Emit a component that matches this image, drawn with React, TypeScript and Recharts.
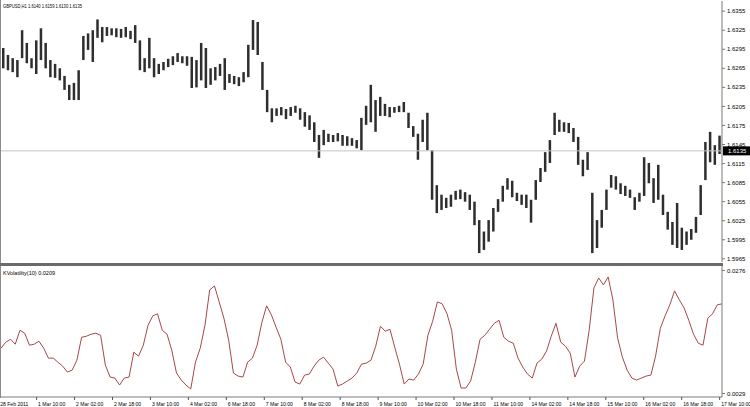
import React from 'react';
import { ComposedChart, LineChart, Bar, Line, XAxis, YAxis, ReferenceLine } from 'recharts';

const highs = [
  1.6297, 1.6286, 1.6281, 1.6278, 1.6325, 1.6305, 1.6281, 1.6309, 1.6328, 1.6305,
  1.6278, 1.6272, 1.6265, 1.6253, 1.6239, 1.6242, 1.6262, 1.6316, 1.6320, 1.6325,
  1.6342, 1.6330, 1.6330, 1.6328, 1.6328, 1.6327, 1.6330, 1.6324, 1.6333, 1.6309,
  1.6281, 1.6313, 1.6281, 1.6272, 1.6275, 1.6280, 1.6284, 1.6289, 1.6284, 1.6284,
  1.6283, 1.6278, 1.6305, 1.6297, 1.6265, 1.6267, 1.6272, 1.6281, 1.6256, 1.6253,
  1.6251, 1.6259, 1.6302, 1.6341, 1.6338, 1.6275, 1.6231, 1.6202, 1.6202, 1.6204,
  1.6201, 1.6204, 1.6206, 1.6202, 1.6196, 1.6191, 1.6180, 1.6160, 1.6168, 1.6162,
  1.6160, 1.6163, 1.6160, 1.6158, 1.6155, 1.6152, 1.6187, 1.6206, 1.6239, 1.6215,
  1.6220, 1.6209, 1.6204, 1.6204, 1.6206, 1.6212, 1.6195, 1.6174, 1.6162, 1.6184,
  1.6195, 1.6136, 1.6081, 1.6066, 1.6061, 1.6066, 1.6072, 1.6074, 1.6070, 1.6066,
  1.6055, 1.6026, 1.6008, 1.6026, 1.6045, 1.6059, 1.6080, 1.6092, 1.6088, 1.6069,
  1.6066, 1.6066, 1.6058, 1.6089, 1.6108, 1.6133, 1.6152, 1.6195, 1.6184, 1.6180,
  1.6179, 1.6171, 1.6157, 1.6121, 1.6133, 1.6069, 1.6026, 1.6042, 1.6074, 1.6097,
  1.6095, 1.6084, 1.6080, 1.6074, 1.6062, 1.6069, 1.6125, 1.6116, 1.6092, 1.6113,
  1.6066, 1.6039, 1.6023, 1.6053, 1.6014, 1.6008, 1.6012, 1.6031, 1.6081, 1.6149,
  1.6165, 1.6144, 1.6159,
];

const lows = [
  1.6265, 1.6262, 1.6259, 1.6251, 1.6281, 1.6273, 1.6265, 1.6256, 1.6278, 1.6265,
  1.6251, 1.6250, 1.6246, 1.6231, 1.6215, 1.6215, 1.6215, 1.6278, 1.6294, 1.6275,
  1.6313, 1.6306, 1.6316, 1.6317, 1.6314, 1.6313, 1.6314, 1.6311, 1.6305, 1.6262,
  1.6259, 1.6265, 1.6251, 1.6256, 1.6262, 1.6267, 1.6270, 1.6275, 1.6273, 1.6269,
  1.6234, 1.6235, 1.6246, 1.6234, 1.6239, 1.6246, 1.6253, 1.6231, 1.6242, 1.6240,
  1.6237, 1.6243, 1.6251, 1.6294, 1.6286, 1.6231, 1.6196, 1.6180, 1.6190, 1.6191,
  1.6185, 1.6190, 1.6195, 1.6184, 1.6173, 1.6168, 1.6149, 1.6124, 1.6144, 1.6149,
  1.6149, 1.6150, 1.6143, 1.6143, 1.6143, 1.6139, 1.6136, 1.6176, 1.6180, 1.6165,
  1.6190, 1.6190, 1.6188, 1.6195, 1.6196, 1.6196, 1.6171, 1.6157, 1.6121, 1.6149,
  1.6136, 1.6058, 1.6037, 1.6042, 1.6045, 1.6047, 1.6058, 1.6059, 1.6055, 1.6042,
  1.6018, 1.5974, 1.5979, 1.5992, 1.6008, 1.6039, 1.6055, 1.6074, 1.6062, 1.6056,
  1.6050, 1.6045, 1.6022, 1.6058, 1.6086, 1.6102, 1.6116, 1.6160, 1.6165, 1.6165,
  1.6163, 1.6149, 1.6113, 1.6095, 1.6105, 1.5974, 1.5982, 1.6014, 1.6042, 1.6077,
  1.6074, 1.6067, 1.6064, 1.6061, 1.6042, 1.6055, 1.6064, 1.6084, 1.6053, 1.6058,
  1.6034, 1.6011, 1.5987, 1.5982, 1.5979, 1.5987, 1.5995, 1.6006, 1.6034, 1.6089,
  1.6117, 1.6113, 1.6130,
];

const volatility = [
  0.0120, 0.0132, 0.0138, 0.0128, 0.0156, 0.0150, 0.0126, 0.0128, 0.0134, 0.0120,
  0.0100, 0.0100, 0.0092, 0.0084, 0.0072, 0.0076, 0.0096, 0.0142, 0.0144, 0.0148,
  0.0150, 0.0146, 0.0086, 0.0062, 0.0060, 0.0046, 0.0060, 0.0062, 0.0112, 0.0104,
  0.0126, 0.0166, 0.0185, 0.0189, 0.0156, 0.0148, 0.0116, 0.0070, 0.0056, 0.0046,
  0.0038, 0.0092, 0.0120, 0.0166, 0.0237, 0.0245, 0.0213, 0.0180, 0.0136, 0.0070,
  0.0064, 0.0062, 0.0092, 0.0100, 0.0126, 0.0172, 0.0205, 0.0187, 0.0162, 0.0138,
  0.0092, 0.0082, 0.0052, 0.0048, 0.0066, 0.0068, 0.0084, 0.0096, 0.0102, 0.0090,
  0.0078, 0.0044, 0.0048, 0.0054, 0.0060, 0.0070, 0.0088, 0.0090, 0.0096, 0.0124,
  0.0164, 0.0154, 0.0158, 0.0122, 0.0088, 0.0048, 0.0058, 0.0056, 0.0068, 0.0088,
  0.0146, 0.0174, 0.0213, 0.0209, 0.0190, 0.0156, 0.0078, 0.0040, 0.0040, 0.0054,
  0.0092, 0.0138, 0.0146, 0.0158, 0.0170, 0.0176, 0.0142, 0.0134, 0.0130, 0.0100,
  0.0082, 0.0068, 0.0060, 0.0090, 0.0098, 0.0114, 0.0144, 0.0170, 0.0132, 0.0124,
  0.0110, 0.0062, 0.0084, 0.0094, 0.0156, 0.0241, 0.0261, 0.0247, 0.0263, 0.0217,
  0.0140, 0.0102, 0.0076, 0.0060, 0.0056, 0.0060, 0.0064, 0.0066, 0.0104, 0.0160,
  0.0185, 0.0207, 0.0235, 0.0217, 0.0201, 0.0176, 0.0148, 0.0130, 0.0126, 0.0180,
  0.0189, 0.0207, 0.0209,
];

const timeLabels = [
  '28 Feb 2011', '1 Mar 10:00', '2 Mar 02:00', '2 Mar 18:00', '3 Mar 10:00',
  '4 Mar 02:00', '6 Mar 18:00', '7 Mar 10:00', '8 Mar 02:00', '8 Mar 18:00',
  '9 Mar 10:00', '10 Mar 02:00', '10 Mar 18:00', '11 Mar 10:00', '14 Mar 02:00',
  '14 Mar 18:00', '15 Mar 10:00', '16 Mar 02:00', '16 Mar 18:00', '17 Mar 10:00',
];

const priceTicks = [
  1.6355, 1.6325, 1.6295, 1.6265, 1.6235, 1.6205, 1.6175,
  1.6145, 1.6115, 1.6085, 1.6055, 1.6025, 1.5995, 1.5965,
];
const volTicks = [0.0276, 0.0029];
const lastQuote = { open: 1.614, high: 1.6159, low: 1.613, close: 1.6135 };

const W = 750;
const AXIS_W = 28;
const PLOT_W = W - AXIS_W - 1;
const BAND = PLOT_W / highs.length;
const FONT = '"Liberation Sans", Arial, sans-serif';

const priceData = highs.map((h, i) => ({ i, hl: [lows[i], h] }));
const volData = volatility.map((v, i) => ({ i, v }));

const fmt4 = (v: number) => v.toFixed(4);

const TimeTick = ({ x, y, payload }: any) => {
  const x0 = x - BAND / 2;
  const label = timeLabels[Math.round(payload.value / 8)] ?? '';
  return (
    <g>
      <line x1={x0} y1={y} x2={x0} y2={y + 3} stroke="#555" />
      <text x={x0 + 1.5} y={y + 8.5} fontSize={5.1} fill="#000" fontFamily={FONT}>
        {label}
      </text>
    </g>
  );
};

const PriceTag = ({ viewBox }: any) => {
  if (!viewBox) return null;
  const x = viewBox.x + viewBox.width;
  const y = viewBox.y;
  return (
    <g>
      <rect x={x + 1} y={y - 4.5} width={AXIS_W - 1} height={9} fill="#000" />
      <text x={x + 6} y={y + 2} fontSize={6} fill="#fff" fontFamily={FONT}>
        {fmt4(lastQuote.close)}
      </text>
    </g>
  );
};

// small panel caption, squeezed to the width it has in the terminal
const Caption = ({ top, width, text }: { top: number; width: number; text: string }) => (
  <svg width={160} height={10} style={{ position: 'absolute', left: 0, top, zIndex: 2 }}>
    <text x={3} y={6.5} fontSize={6} fill="#000" fontFamily={FONT} textLength={width} lengthAdjust="spacingAndGlyphs">
      {text}
    </text>
  </svg>
);

export default function App() {
  const title = `GBPUSD,H1 ${fmt4(lastQuote.open)} ${fmt4(lastQuote.high)} ${fmt4(lastQuote.low)} ${fmt4(lastQuote.close)}`;
  const volTitle = `KVolatility(10) ${fmt4(volatility[volatility.length - 1])}`;
  return (
    <div
      style={{
        position: 'absolute', left: 0, top: 0, width: W, height: 407,
        background: '#fff', overflow: 'hidden', fontFamily: FONT,
      }}
    >
      <div style={{ position: 'absolute', left: 0, top: 0, width: 1, height: 398, background: '#8a8a8a' }} />

      <ComposedChart
        width={W}
        height={263}
        data={priceData}
        margin={{ top: 1, right: 0, bottom: 1, left: 1 }}
        style={{ position: 'absolute', left: 0, top: 0 }}
      >
        <XAxis dataKey="i" hide />
        <YAxis
          orientation="right"
          width={AXIS_W}
          domain={[1.596, 1.6371]}
          ticks={priceTicks}
          tickFormatter={fmt4}
          interval={0}
          tick={{ fontSize: 6, fill: '#000', fontFamily: FONT }}
          tickSize={3}
          tickMargin={2}
          stroke="#7a7a7a"
          allowDataOverflow
        />
        <ReferenceLine y={lastQuote.close} stroke="#c4c4c4" label={<PriceTag />} />
        <Bar dataKey="hl" barSize={2.5} fill="#2e2e2e" isAnimationActive={false} />
      </ComposedChart>

      <Caption top={1} width={79} text={title} />

      <div style={{ position: 'absolute', left: 0, top: 263, width: 723, height: 3, background: '#6a6a6a' }} />

      <LineChart
        width={W}
        height={141}
        data={volData}
        margin={{ top: 0, right: 0, bottom: 0, left: 1 }}
        style={{ position: 'absolute', left: 0, top: 266 }}
      >
        <XAxis
          dataKey="i"
          interval={7}
          tick={<TimeTick />}
          tickLine={false}
          tickSize={0}
          tickMargin={0}
          height={10}
          stroke="#7a7a7a"
        />
        <YAxis
          orientation="right"
          width={AXIS_W}
          domain={[0.0022, 0.0285]}
          ticks={volTicks}
          tickFormatter={fmt4}
          interval={0}
          tick={{ fontSize: 6, fill: '#000', fontFamily: FONT }}
          tickSize={3}
          tickMargin={2}
          stroke="#7a7a7a"
          allowDataOverflow
        />
        <Line
          type="linear"
          dataKey="v"
          stroke="#a8474a"
          strokeWidth={1}
          dot={false}
          isAnimationActive={false}
        />
      </LineChart>

      <Caption top={268} width={52} text={volTitle} />
    </div>
  );
}
